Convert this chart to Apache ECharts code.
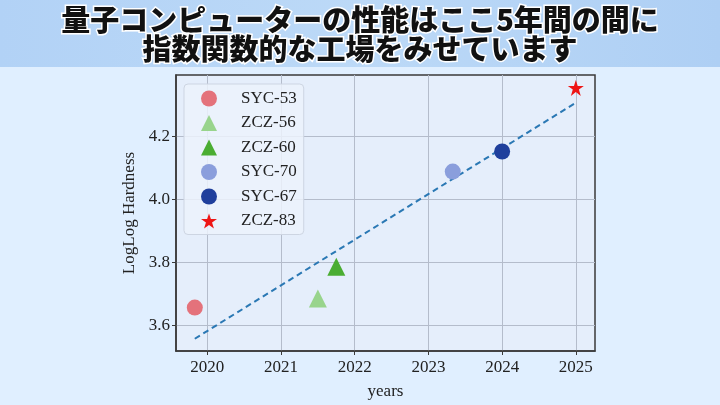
<!DOCTYPE html>
<html><head><meta charset="utf-8">
<script src="https://cdn.jsdelivr.net/npm/echarts@6/dist/echarts.min.js"></script>
<style>html,body{margin:0;padding:0;background:#e0efff;}#c{width:720px;height:405px;}</style>
</head><body><div id="c"></div>
<script>
const titleText = "量子コンピューターの性能はここ5年間の間に\n指数関数的な工場をみせています";
const xTicks = [2020, 2021, 2022, 2023, 2024, 2025];
const yTicks = [3.6, 3.8, 4.0, 4.2];
const names = ["SYC-53", "ZCZ-56", "ZCZ-60", "SYC-70", "SYC-67", "ZCZ-83"];
const years = [2019.83, 2021.5, 2021.75, 2023.33, 2024.0, 2025.0];
const hardness = [3.656, 3.685, 3.786, 4.088, 4.152, 4.354];
const trendYears = [2019.83, 2025.0];
const trendValues = [3.557, 4.307];

const starPath = 'path://M50,0 L61.8,35.5 L100,35.5 L69.1,57.5 L80.9,95 L50,72 L19.1,95 L30.9,57.5 L0,35.5 L38.2,35.5 Z';
const styles = [
  {symbol: 'circle', size: 16, color: '#e4727b'},
  {symbol: 'triangle', size: 18, color: '#98d48c'},
  {symbol: 'triangle', size: 18, color: '#4aad32'},
  {symbol: 'circle', size: 16, color: '#8a9edc'},
  {symbol: 'circle', size: 16, color: '#1f3f9c'},
  {symbol: starPath, size: 16, color: '#ee1515'}
];

const serif = 'Liberation Serif';
const series = names.map((n, i) => ({
  name: n, type: 'scatter',
  symbol: styles[i].symbol, symbolSize: styles[i].size,
  itemStyle: {color: styles[i].color, opacity: 1},
  data: [[years[i], hardness[i]]],
  z: 5
}));
series.unshift({
  name: 'trend', type: 'line', symbol: 'none', silent: true,
  lineStyle: {color: '#2a78b4', width: 2, type: [6, 4]},
  data: trendYears.map((y, i) => [y, trendValues[i]]),
  z: 3
});

const chart = echarts.init(document.getElementById('c'));
chart.setOption({
  backgroundColor: '#e0efff',
  animation: false,
  graphic: [{
    type: 'rect', left: 0, top: 0, z: -10,
    shape: {width: 720, height: 67},
    style: {fill: new echarts.graphic.LinearGradient(0, 0, 1, 0, [
      {offset: 0, color: '#b2d2f6'}, {offset: 0.5, color: '#bcd9f7'}, {offset: 1, color: '#aecff4'}])}
  }],
  title: {
    text: titleText, left: 'center', top: 5, padding: 0,
    textStyle: {fontFamily: 'Noto Sans CJK JP', fontWeight: 900, fontSize: 29, lineHeight: 29,
      color: '#111', textBorderColor: '#ffffff', textBorderWidth: 3}
  },
  grid: {left: 176, right: 125, top: 75, bottom: 52, show: true,
    backgroundColor: '#e5eefb', borderColor: '#3a3a3a', borderWidth: 1.5},
  legend: {
    data: names, orient: 'vertical', left: 184, top: 84,
    itemWidth: 16, itemHeight: 16, itemGap: 7.5,
    padding: [6, 7, 5, 17],
    backgroundColor: 'rgba(236,242,252,0.85)', borderColor: '#cdd5e2', borderWidth: 1, borderRadius: 4,
    textStyle: {fontFamily: serif, fontSize: 17, color: '#222', padding: [0, 0, 0, 19]}
  },
  xAxis: {
    type: 'value', min: 2019.575, max: 2025.26,
    name: 'years', nameLocation: 'middle', nameGap: 32,
    nameTextStyle: {fontFamily: serif, fontSize: 17, color: '#222'},
    axisLine: {show: true, lineStyle: {color: '#3a3a3a', width: 1.5}},
    axisTick: {show: true, inside: false, length: 4, customValues: xTicks, lineStyle: {color: '#3a3a3a'}},
    axisLabel: {customValues: xTicks, fontFamily: serif, fontSize: 17, color: '#222', margin: 8,
      formatter: v => String(Math.round(v))},
    splitLine: {show: true, lineStyle: {color: '#b4bccb', width: 1}}
  },
  yAxis: {
    type: 'value', min: 3.518, max: 4.395,
    name: 'LogLog Hardness', nameLocation: 'middle', nameGap: 37,
    nameTextStyle: {fontFamily: serif, fontSize: 17, color: '#222'},
    axisLine: {show: true, lineStyle: {color: '#3a3a3a', width: 1.5}},
    axisTick: {show: true, inside: false, length: 4, customValues: yTicks, lineStyle: {color: '#3a3a3a'}},
    axisLabel: {customValues: yTicks, fontFamily: serif, fontSize: 17, color: '#222', margin: 6,
      formatter: v => v.toFixed(1)},
    splitLine: {show: true, lineStyle: {color: '#b4bccb', width: 1}}
  },
  series: series
});
</script></body></html>
